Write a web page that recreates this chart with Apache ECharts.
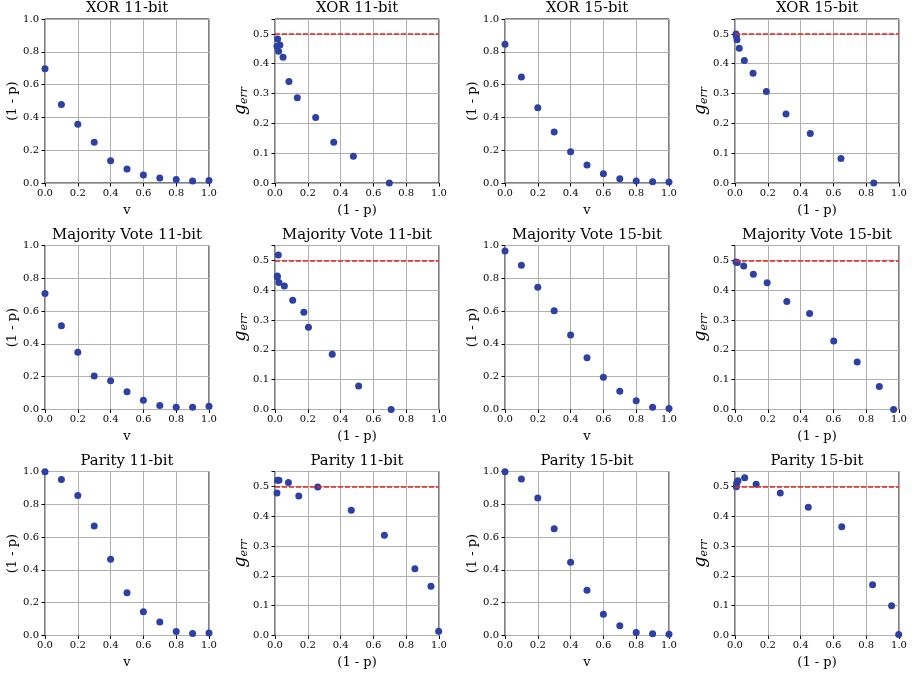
<!DOCTYPE html>
<html>
<head>
<meta charset="utf-8">
<script src="https://cdn.jsdelivr.net/npm/echarts@6/dist/echarts.min.js"></script>
<style>
	html, body { margin: 0; padding: 0; background: #fff; }
	#chart { width: 919px; height: 674px; }
</style>
</head>
<body>
<div id="chart"></div>
<script>
// noise level v (x axis of the left plots)
var vValues = [0, 0.1, 0.2, 0.3, 0.4, 0.5, 0.6, 0.7, 0.8, 0.9, 1.0];

// (1 - p) for each v, and the generalisation error for each point
var xor11OneMinusP = [0.697, 0.478, 0.358, 0.248, 0.136, 0.085, 0.049, 0.030, 0.022, 0.012, 0.016];
var xor11Gerr = [0.000, 0.090, 0.137, 0.220, 0.286, 0.340, 0.422, 0.463, 0.442, 0.459, 0.483];
var xor15OneMinusP = [0.846, 0.646, 0.459, 0.311, 0.191, 0.110, 0.057, 0.026, 0.012, 0.008, 0.006];
var xor15Gerr = [0.000, 0.082, 0.166, 0.231, 0.307, 0.368, 0.411, 0.452, 0.480, 0.493, 0.500];

var mv11OneMinusP = [0.708, 0.510, 0.349, 0.204, 0.176, 0.108, 0.057, 0.024, 0.014, 0.014, 0.020];
var mv11Gerr = [0.000, 0.079, 0.185, 0.276, 0.326, 0.366, 0.414, 0.426, 0.448, 0.444, 0.518];
var mv15OneMinusP = [0.967, 0.880, 0.745, 0.602, 0.455, 0.316, 0.196, 0.112, 0.053, 0.014, 0.006];
var mv15Gerr = [0.000, 0.077, 0.159, 0.230, 0.322, 0.362, 0.425, 0.454, 0.481, 0.493, 0.495];

var parity11OneMinusP = [0.998, 0.951, 0.853, 0.667, 0.465, 0.261, 0.145, 0.082, 0.024, 0.012, 0.016];
var parity11Gerr = [0.014, 0.165, 0.224, 0.336, 0.420, 0.498, 0.468, 0.513, 0.521, 0.478, 0.521];
var parity15OneMinusP = [0.998, 0.955, 0.839, 0.651, 0.447, 0.276, 0.129, 0.059, 0.018, 0.010, 0.008];
var parity15Gerr = [0.003, 0.100, 0.170, 0.365, 0.430, 0.478, 0.507, 0.529, 0.519, 0.511, 0.499];

var taskNames = ['XOR', 'Majority Vote', 'Parity'];
var bitSizes = ['11-bit', '15-bit'];
var chanceLevel = 0.5;

// [min, max, interval]
var xTicks = [0, 1, 0.2];
var pTicks = [0, 1, 0.2];
var gerrTicks = [0, 0.55, 0.1];

initPanels();

function zip(xs, ys) {
	var out = [];
	for (var i = 0; i < xs.length; i++) {
		out.push([xs[i], ys[i]]);
	}
	return out;
}

/*
 * 3 rows (tasks) x 4 columns: [v vs 1-p, 1-p vs gerr] for 11 and 15 bit
 */
function initPanels() {
	var myChart = echarts.init(document.getElementById('chart'), null, { renderer: 'canvas' });
	var font = 'DejaVu Serif';
	var dotColor = '#2d40a3';
	var colLeft = [45, 275, 505, 735];
	var rowTop = [19, 245.5, 471.5];
	var plotW = 164, plotH = 164;

	var rows = [
		[xor11OneMinusP, xor11Gerr, xor15OneMinusP, xor15Gerr],
		[mv11OneMinusP, mv11Gerr, mv15OneMinusP, mv15Gerr],
		[parity11OneMinusP, parity11Gerr, parity15OneMinusP, parity15Gerr]
	];

	var grids = [], xAxes = [], yAxes = [], titles = [], series = [];
	// hide the extra label ECharts puts at max 0.55
	var fmt = function (val) {
		return val > 1.0001 || (val > 0.5001 && val < 0.6) ? '' : val.toFixed(1);
	};

	for (var r = 0; r < 3; r++) {
		for (var c = 0; c < 4; c++) {
			var idx = grids.length;
			var isGerr = c % 2 == 1;
			var bits = bitSizes[c < 2 ? 0 : 1];
			var oneMinusP = rows[r][c < 2 ? 0 : 2];
			var gerr = rows[r][c < 2 ? 1 : 3];
			var xr = isGerr ? pTicks : xTicks;
			var yr = isGerr ? gerrTicks : pTicks;

			grids.push({
				left: colLeft[c], top: rowTop[r], width: plotW, height: plotH,
				show: true, borderColor: '#000', borderWidth: 1, backgroundColor: '#fff'
			});
			titles.push({
				text: taskNames[r] + ' ' + bits,
				left: colLeft[c] + plotW / 2, top: rowTop[r] - 18,
				textAlign: 'center', padding: 0,
				textStyle: { fontFamily: font, fontSize: 14.8, fontWeight: 'normal', color: '#000' }
			});
			xAxes.push({
				gridIndex: idx, type: 'value', min: xr[0], max: xr[1], interval: xr[2],
				name: isGerr ? '(1 - p)' : 'v', nameLocation: 'middle', nameGap: 21,
				nameTextStyle: { fontFamily: font, fontSize: 13, color: '#000' },
				axisLine: { show: false },
				axisTick: { show: true, length: 3.5, lineStyle: { color: '#000' } },
				axisLabel: { fontFamily: font, fontSize: 10, color: '#000', margin: 5, formatter: fmt },
				splitLine: { show: true, lineStyle: { color: '#b0b0b0', width: 1 } }
			});
			yAxes.push({
				gridIndex: idx, type: 'value', min: yr[0], max: yr[1], interval: yr[2],
				name: isGerr ? '{g|g}{s|err}' : '(1 - p)', nameLocation: 'middle', nameGap: 25,
				nameTextStyle: {
					fontFamily: font, fontSize: 13, color: '#000',
					rich: {
						g: { fontFamily: font, fontSize: 17, fontStyle: 'italic', color: '#000' },
						s: { fontFamily: font, fontSize: 11, fontStyle: 'italic', color: '#000', padding: [6, 0, 0, 0] }
					}
				},
				axisLine: { show: false },
				axisTick: { show: true, length: 3.5, lineStyle: { color: '#000' } },
				axisLabel: { fontFamily: font, fontSize: 10, color: '#000', margin: 6, formatter: fmt },
				splitLine: { show: true, lineStyle: { color: '#b0b0b0', width: 1 } }
			});

			var s = {
				type: 'scatter', xAxisIndex: idx, yAxisIndex: idx,
				symbolSize: 7, itemStyle: { color: dotColor, opacity: 1 },
				data: isGerr ? zip(oneMinusP, gerr) : zip(vValues, oneMinusP)
			};
			if (isGerr) {
				s.markLine = {
					silent: true, symbol: 'none', label: { show: false },
					lineStyle: { color: '#e8251f', type: [5, 2], width: 1.5 },
					data: [{ yAxis: chanceLevel }]
				};
			}
			series.push(s);
		}
	}

	var option = {
		backgroundColor: '#fff',
		animation: false,
		title: titles,
		grid: grids,
		xAxis: xAxes,
		yAxis: yAxes,
		series: series
	};
	myChart.setOption(option, true);
}
</script>
</body>
</html>
